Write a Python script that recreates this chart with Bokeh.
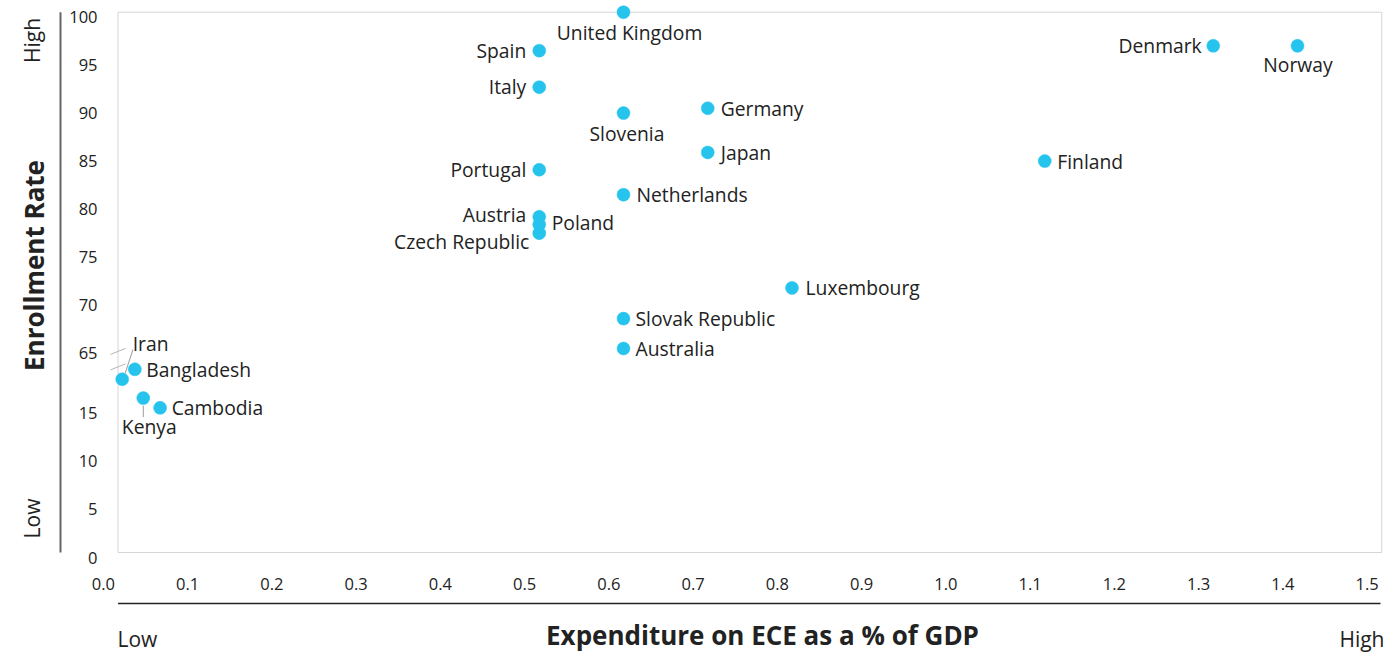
from bokeh.plotting import figure
from bokeh.models import Range1d, ColumnDataSource
from bokeh.embed import file_html
from bokeh.resources import INLINE
from bokeh.core.properties import value
import math

# ---------------- data ----------------
countries = ["United Kingdom", "Spain", "Italy", "Slovenia", "Germany", "Japan",
             "Portugal", "Netherlands", "Austria", "Poland", "Czech Republic",
             "Luxembourg", "Slovak Republic", "Australia", "Finland", "Denmark",
             "Norway", "Iran", "Bangladesh", "Kenya", "Cambodia"]
expenditure = [0.6, 0.5, 0.5, 0.6, 0.7, 0.7,
               0.5, 0.6, 0.5, 0.5, 0.5,
               0.8, 0.6, 0.6, 1.1, 1.3,
               1.4, 0.005, 0.02, 0.03, 0.05]
enrollment = [100.0, 96.0, 92.2, 89.5, 90.0, 85.4,
              83.6, 81.0, 78.7, 77.9, 77.0,
              71.3, 68.1, 64.9, 84.5, 96.5,
              96.5, 39.3, 47.6, 23.6, 15.5]

x_ticks = [0.0, 0.1, 0.2, 0.3, 0.4, 0.5, 0.6, 0.7, 0.8, 0.9, 1.0, 1.1, 1.2, 1.3, 1.4, 1.5]
x_tick_labels = ["0.0", "0.1", "0.2", "0.3", "0.4", "0.5", "0.6", "0.7", "0.8",
                 "0.9", "1.0", "1.1", "1.2", "1.3", "1.4", "1.5"]
y_ticks = [0, 5, 10, 15, 65, 70, 75, 80, 85, 90, 95, 100]
y_tick_labels = ["0", "5", "10", "15", "65", "70", "75", "80", "85", "90", "95", "100"]

x_title = "Expenditure on ECE as a % of GDP"
y_title = "Enrollment Rate"
low_text, high_text = "Low", "High"

# ---------------- broken y scale ----------------
BREAK_LO, BREAK_HI, GAP = 15.0, 65.0, 6.25


def tr(v):
    if v <= BREAK_LO:
        return v
    if v >= BREAK_HI:
        return v - (BREAK_HI - BREAK_LO) + GAP
    return BREAK_LO + (v - BREAK_LO) * GAP / (BREAK_HI - BREAK_LO)


# ---------------- geometry (page pixels) ----------------
W, H = 1386, 654
X0_PX, KX = 117.5, 842.5      # x = 0 at page px 117.5
Y0_PX, KY = 552.0, 9.605      # t = 0 at page py 552


def X(px):
    return (px - X0_PX) / KX


def T(py):
    return (Y0_PX - py) / KY


x_range = Range1d(X(0), X(W))
y_range = Range1d(T(H), T(0))

p = figure(width=W, height=H, x_range=x_range, y_range=y_range,
           x_axis_type=None, y_axis_type=None, title=None,
           toolbar_location=None, output_backend="svg", min_border=0)
p.outline_line_color = None
p.background_fill_color = "white"
p.border_fill_color = "white"

FONT = value("Open Sans")
TXT = "#222222"
DOT = "#26C4EC"

# plot box (light outline)
t_top = tr(100)
p.quad(left=[x_ticks[0]], right=[x_ticks[-1]], bottom=[tr(0)], top=[t_top],
       fill_alpha=0, line_color="#d6d6d6", line_width=1)

# dark axis lines
p.segment(x0=[X(60)], y0=[tr(0)], x1=[X(60)], y1=[t_top], line_color="#666666", line_width=2)
p.segment(x0=[x_ticks[0]], y0=[T(603)], x1=[X(1380)], y1=[T(603)], line_color="#222222", line_width=1.5)

# break marks on the y axis (just below 65)
t65 = tr(BREAK_HI)
for dy in (3.0, 18.5):
    cy = t65 - dy / KY
    p.segment(x0=[-7.5 / KX], y0=[cy - 3.0 / KY], x1=[7.5 / KX], y1=[cy + 3.0 / KY],
              line_color="#b5b5b5", line_width=1)

# tick labels
p.text(x=x_ticks, y=[T(583)] * len(x_ticks), text=x_tick_labels,
       text_font=FONT, text_font_size="16.5px", text_color=TXT,
       text_align="right", text_baseline="middle", x_offset=-3)
p.text(x=[X(97)] * len(y_ticks), y=[tr(v) for v in y_ticks], text=y_tick_labels,
       text_font=FONT, text_font_size="16.5px", text_color=TXT,
       text_align="right", text_baseline="middle", y_offset=5)

# axis titles
p.text(x=[X(762)], y=[T(634)], text=[x_title], text_font=FONT, text_font_size="26px",
       text_font_style="bold", text_color=TXT, text_align="center", text_baseline="middle")
p.text(x=[X(117)], y=[T(638)], text=[low_text], text_font=FONT, text_font_size="21px",
       text_color=TXT, text_align="left", text_baseline="middle")
p.text(x=[X(1384)], y=[T(638)], text=[high_text], text_font=FONT, text_font_size="21px",
       text_color=TXT, text_align="right", text_baseline="middle")
p.text(x=[X(33)], y=[T(265)], text=[y_title], text_font=FONT, text_font_size="26px",
       text_font_style="bold", text_color=TXT, text_align="center", text_baseline="middle",
       angle=math.pi / 2)
p.text(x=[X(31)], y=[T(40)], text=[high_text], text_font=FONT, text_font_size="21px",
       text_color=TXT, text_align="center", text_baseline="middle", angle=math.pi / 2)
p.text(x=[X(31)], y=[T(518)], text=[low_text], text_font=FONT, text_font_size="21px",
       text_color=TXT, text_align="center", text_baseline="middle", angle=math.pi / 2)

# leader lines (offsets in px relative to the point)
leaders = {"Iran": ((3.0, -6.0), (10.7, -29.7)), "Kenya": ((0.0, 7.5), (0.0, 19.0))}
lx0, ly0, lx1, ly1 = [], [], [], []
for name, ((ax, ay), (bx, by)) in leaders.items():
    i = countries.index(name)
    xv, tv = expenditure[i], tr(enrollment[i])
    lx0.append(xv + ax / KX); ly0.append(tv - ay / KY)
    lx1.append(xv + bx / KX); ly1.append(tv - by / KY)
p.segment(x0=lx0, y0=ly0, x1=lx1, y1=ly1, line_color="#9a9a9a", line_width=1)

# points
src = ColumnDataSource(dict(x=expenditure, y=[tr(v) for v in enrollment], name=countries))
p.scatter(x="x", y="y", source=src, marker="circle", size=13,
          fill_color=DOT, line_color=DOT, line_width=0.5)

# label placement: (align, dx px, dy px)
placement = {
    "United Kingdom": ("center", 6, 20), "Spain": ("right", -13, 0), "Italy": ("right", -13, -1),
    "Slovenia": ("center", 3.5, 20), "Germany": ("left", 13, 0), "Japan": ("left", 13, 0),
    "Portugal": ("right", -13, 0), "Netherlands": ("left", 13, 0), "Austria": ("right", -13, -2.5),
    "Poland": ("left", 12.5, -2), "Czech Republic": ("right", -10, 8.5), "Luxembourg": ("left", 13.5, 0),
    "Slovak Republic": ("left", 12, 0), "Australia": ("left", 12, 0), "Finland": ("left", 12.5, 0),
    "Denmark": ("right", -11.5, 0), "Norway": ("center", 0.5, 19), "Iran": ("left", 10.5, -36),
    "Bangladesh": ("left", 11.5, 0), "Kenya": ("center", 6, 28.5), "Cambodia": ("left", 11.5, 0),
}
for align in ("left", "right", "center"):
    d = dict(x=[], y=[], text=[], dx=[], dy=[])
    for i, c in enumerate(countries):
        a, dx, dy = placement[c]
        if a != align:
            continue
        d["x"].append(expenditure[i]); d["y"].append(tr(enrollment[i])); d["text"].append(c)
        d["dx"].append(dx); d["dy"].append(dy)
    p.text(x="x", y="y", text="text", x_offset="dx", y_offset="dy", source=ColumnDataSource(d),
           text_font=FONT, text_font_size="19.3px", text_color=TXT,
           text_align=align, text_baseline="middle")

open("out.html", "w").write(file_html(p, INLINE))
